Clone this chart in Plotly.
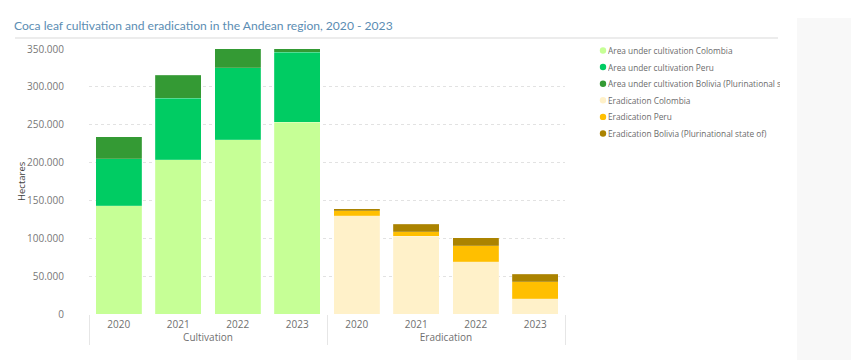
import plotly.graph_objects as go

# ---- data ----
years = ["2020", "2021", "2022", "2023"]
groups = ["Cultivation", "Eradication"]

cult_colombia = [143000, 204000, 230000, 253000]
cult_peru = [61777, 80681, 95008, 92784]
cult_bolivia = [29400, 30500, 29900, 31000]

erad_colombia = [130000, 103000, 69000, 20200]
erad_peru = [6300, 5700, 21300, 22100]
erad_bolivia = [2500, 9800, 10500, 10500]

series_names = [
    "Area under cultivation Colombia",
    "Area under cultivation Peru",
    "Area under cultivation Bolivia (Plurinational state of)",
    "Eradication Colombia",
    "Eradication Peru",
    "Eradication Bolivia (Plurinational state of)",
]
series_colors = ["#c6ff96", "#00cc63", "#349a34", "#fff1c9", "#ffbf00", "#ab8300"]
series_values = [cult_colombia, cult_peru, cult_bolivia, erad_colombia, erad_peru, erad_bolivia]
series_group = [groups[0]] * 3 + [groups[1]] * 3

# ---- layout geometry (pixels) ----
W, H = 851, 360
L, R, T, B = 89, 286, 49, 46
PW, PH = W - L - R, H - T - B


def px_x(p):
    return (p - L) / PW


def px_y(p):
    return (H - B - p) / PH


fig = go.Figure()
for name, color, vals, grp in zip(series_names, series_colors, series_values, series_group):
    fig.add_trace(go.Bar(
        x=[[grp] * len(years), years],
        y=vals,
        name=name,
        marker=dict(color=color, line=dict(color="rgba(255,255,255,0.35)", width=0.5)),
        showlegend=False,
        hovertemplate="%{y}<extra>" + name + "</extra>",
    ))

shapes = []
annotations = []

# title underline
shapes.append(dict(type="line", xref="paper", yref="paper",
                   x0=px_x(15), x1=px_x(778), y0=px_y(38), y1=px_y(38),
                   line=dict(color="#d9d9d9", width=1)))
# right grey panel
shapes.append(dict(type="rect", xref="paper", yref="paper", layer="below",
                   x0=px_x(797), x1=px_x(851), y0=px_y(18), y1=px_y(360),
                   fillcolor="#f8f8f8", line=dict(width=0)))

# custom legend
leg_y = [50.5, 67, 83.7, 100.3, 116.9, 133.5]
for i, (name, color) in enumerate(zip(series_names, series_colors)):
    yy = px_y(leg_y[i])
    shapes.append(dict(type="circle", xref="paper", yref="paper",
                       xsizemode="pixel", ysizemode="pixel",
                       xanchor=px_x(603), yanchor=yy,
                       x0=-3.2, x1=3.2, y0=-3.2, y1=3.2,
                       fillcolor=color, line=dict(width=0)))
    annotations.append(dict(text=name, xref="paper", yref="paper",
                            x=px_x(606), y=yy, xanchor="left", yanchor="middle",
                            showarrow=False, width=172, align="left",
                            font=dict(size=8.3, color="#6b6b6b", family="Open Sans")))

# y-axis title
annotations.append(dict(text="Hectares", xref="paper", yref="paper",
                        x=px_x(21), y=px_y(181), textangle=-90,
                        showarrow=False, xanchor="center", yanchor="middle",
                        font=dict(size=9.5, color="#404040", family="Open Sans")))

fig.update_layout(
    width=W, height=H,
    margin=dict(l=L, r=R, t=T, b=B),
    paper_bgcolor="white", plot_bgcolor="white",
    barmode="stack", bargap=0.22,
    separators=",.",
    font=dict(family="Open Sans", color="#777777"),
    title=dict(text="Coca leaf cultivation and eradication in the Andean region, 2020 - 2023",
               xref="container", yref="container", x=14 / W, y=1 - 26 / H,
               xanchor="left", yanchor="middle",
               font=dict(size=12.1, color="#5b8db3", family="Lato")),
    shapes=shapes,
    annotations=annotations,
    showlegend=False,
)
fig.update_yaxes(range=[0, 350000], dtick=50000, tickformat=",d",
                 showgrid=True, gridcolor="#e2e2e2", griddash="dot", gridwidth=1,
                 zeroline=False, showline=False, ticks="",
                 ticklabelstandoff=24,
                 tickfont=dict(size=10, color="#777777"))
fig.update_xaxes(type="multicategory", showgrid=False, showline=False, ticks="",
                 showdividers=True, dividercolor="#e6e6e6", dividerwidth=1,
                 ticklabelstandoff=3,
                 tickfont=dict(size=10, color="#6f6f6f"))

fig.write_html("out.html",
               config={"displayModeBar": False},
               post_script="document.body.style.margin='0';document.body.style.overflow='hidden';")
